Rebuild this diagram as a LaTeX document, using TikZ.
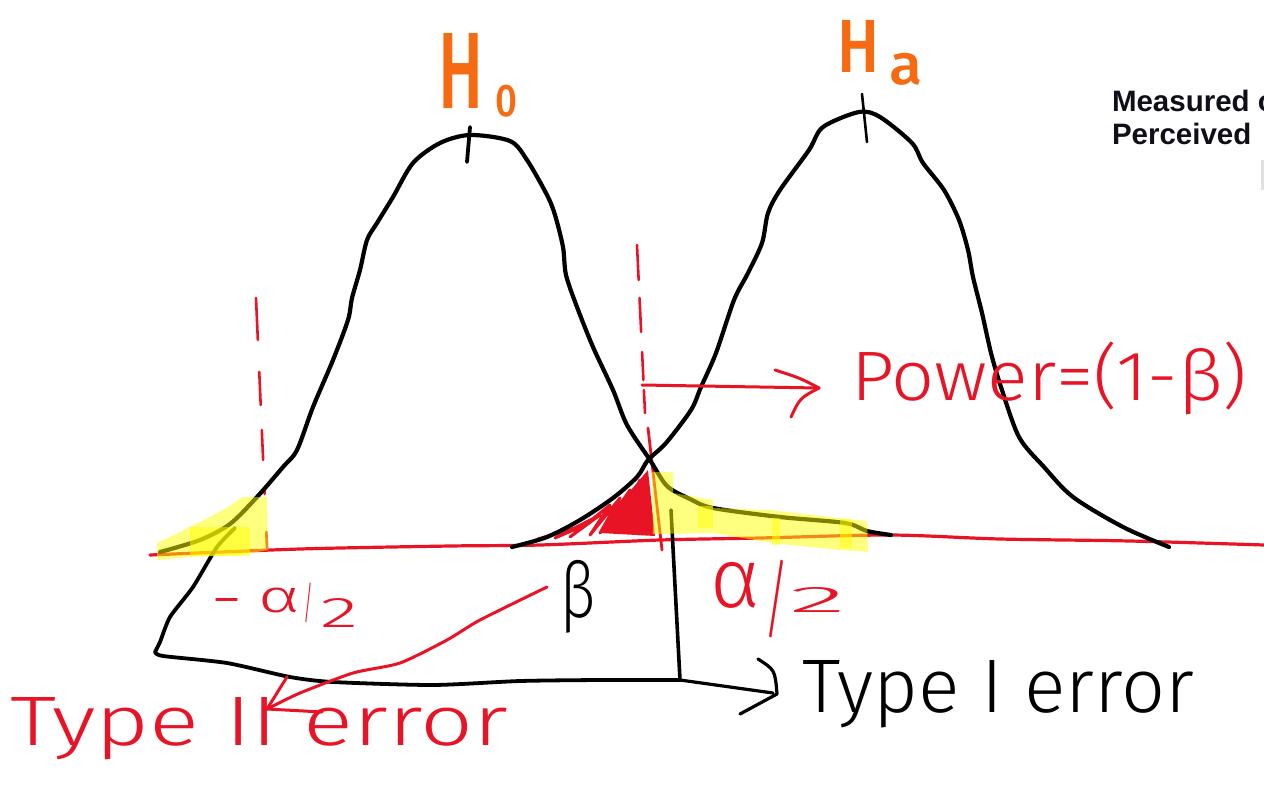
\documentclass[tikz,border=0pt]{standalone}
\usepackage{fontspec}
\usepackage{graphicx}
\setmainfont{Liberation Sans}
\IfFontExistsTF{Fira Sans Light}{\newfontfamily\hand{Fira Sans Light}}{\newfontfamily\hand{Carlito}}
\IfFontExistsTF{Fira Sans Medium}{\newfontfamily\handb{Fira Sans Medium}}{\newfontfamily\handb{Fira Sans}}
\newcommand\gl[3]{\resizebox*{#1}{#2}{\raisebox{\depth}{#3}}}
\definecolor{hred}{RGB}{232,20,38}
\definecolor{horange}{RGB}{246,106,18}
\definecolor{hyel}{RGB}{255,255,0}
\definecolor{ink}{RGB}{15,15,25}
\begin{document}
\begin{tikzpicture}[x=1pt,y=-1pt,line cap=round,line join=round,
  curve/.style={draw=black,line width=4.2pt},
  redline/.style={draw=hred,line width=3.2pt},
  dashseg/.style={draw=hred,line width=2.6pt},
  hl/.style={fill=hyel,opacity=0.5},
  txt/.style={inner sep=0pt,outer sep=0pt,anchor=base west}]
\useasboundingbox[fill=white] (0,0) rectangle (1264,793);

% red baseline
\draw[redline] plot[smooth,tension=0.5] coordinates {(150,555) (300,549) (450,546) (540,545) (660,540) (760,538) (890,535) (1000,539) (1130,541) (1264,545)};

% critical value lines
\foreach \a/\b in {298/340,372/405,430/460,488/494,532/548}
  \draw[dashseg] ({256+11*(\a-298)/250},\a) -- ({256+11*(\b-298)/250},\b);
\foreach \a/\b in {245/280,298/332,352/380,390/413}
  \draw[dashseg] ({637+8*(\a-245)/168},\a) -- ({637+8*(\b-245)/168},\b);
\draw[redline,line width=2.8pt] (648,428) -- (662,550);

% beta region
\fill[hred] (600,533) -- (625,497) -- (648,470) -- (655,536) -- cycle;
\draw[hred,line width=3pt] (538,539) -- (585,525) -- (555,538) -- (600,515) -- (570,537) -- (610,505) -- (590,535) -- (620,498) -- (600,533) -- (630,490) -- (615,533) -- (640,480) -- (628,533) -- (645,476) -- (640,534);

% H0 curve
\draw[curve] plot[smooth,tension=0.5] coordinates {(160,552) (200,540) (230,524) (257,497) (283,467) (297,450) (313,407) (333,360) (348,320) (352,298) (360,270) (367,240) (377,223) (393,197) (413,163) (440,143) (470,135) (510,141) (527,160) (547,195) (555,215) (563,247) (566,275) (577,307) (593,347) (613,390) (627,425) (650,460) (667,486) (690,499) (713,508) (780,517) (845,523) (867,531) (891,535)};
% Ha curve
\draw[curve] plot[smooth,tension=0.5] coordinates {(512,547) (547,537) (580,520) (613,498) (637,477) (648,460) (666,443) (691,410) (701,387) (716,353) (734,300) (748,273) (762,243) (768,213) (780,190) (809,150) (823,127) (859,112) (880,117) (912,143) (923,163) (944,190) (959,220) (968,250) (973,277) (982,313) (991,353) (1001,387) (1019,437) (1044,467) (1073,497) (1123,527) (1169,547)};
% peak ticks
\draw[curve,line width=3.8pt] (470,127) -- (467,162);
\draw[curve,line width=2.6pt] (862,94) -- (867,142);

% text nodes
\node[txt,text=horange] (h0) at (438,117) {\raisebox{9pt}{\gl{45pt}{75pt}{\handb H}}\hspace{12pt}\gl{22pt}{32pt}{\handb 0}};
\node[txt,text=horange] (ha) at (837,85) {\raisebox{13pt}{\gl{42pt}{52pt}{\handb H}}\hspace{10pt}\gl{33pt}{32pt}{\handb a}};
\node[txt,text=hred] (power) at (851,415) {\gl{396pt}{73pt}{\hand Power=(1-β)}};
\node[txt,text=hred] (t2) at (10,745) {\resizebox{498pt}{48pt}{\hand Type II error}};
\node[txt,text=black] (t1) at (802,712) {\resizebox{392pt}{52pt}{\hand Type I error}};
\node[txt,text=black] (beta) at (560,633) {\gl{35pt}{73pt}{\hand β}};
\node[txt,text=hred] (la) at (210,627) {\raisebox{9pt}{\gl{33pt}{20pt}{\hand -}}\hspace{15pt}\raisebox{14pt}{\gl{42pt}{25pt}{\hand α}}\hspace{3pt}\raisebox{4pt}{\gl{10pt}{40pt}{\hand /}}\hspace{7pt}\gl{38pt}{29pt}{\hand 2}};
\node[txt,text=hred] (ra) at (710,638) {\raisebox{30pt}{\gl{50pt}{46pt}{\hand α}}\hspace{3pt}\gl{26pt}{78pt}{\hand /}\hspace{0pt}\raisebox{26pt}{\gl{57pt}{25pt}{\hand 2}}};
\node[txt,text=ink,font=\bfseries\fontsize{29.5}{33}\selectfont] (m1) at (1112,111) {Measured o};
\node[txt,text=ink,font=\bfseries\fontsize{29.5}{33}\selectfont] (m2) at (1112,144) {Perceived};
\fill[black!12] (1261,160) rectangle (1264,190);

% power arrow
\coordinate (pw0) at (642,385);
\coordinate (pw1) at (819,388);
\draw[redline,line width=3pt] (pw0) -- (pw1);
\draw[redline,line width=3pt] (775,370) .. controls (800,378) .. (pw1) .. controls (800,398) .. (791,417);

% bracket to type I error
\coordinate (bk0) at (235,528);
\coordinate (bk1) at (155,652);
\coordinate (bk2) at (680,680);
\coordinate (bk3) at (671,510);
\coordinate (tip1) at (777,694);
\draw[curve,line width=3.8pt] plot[smooth,tension=0.4] coordinates {(bk0) (217,547) (193,587) (170,617) (160,642) (bk1)};
\draw[curve,line width=3.8pt] plot[smooth,tension=0.4] coordinates {(bk1) (163,656) (227,663) (290,677) (333,682) (433,685) (520,681) (600,680) (bk2)};
\draw[curve,line width=3.6pt] (bk3) -- (bk2);
\draw[curve,line width=3.2pt] (bk2) -- (773,693);
\draw[curve,line width=3.2pt] (758,659) .. controls (775,670) .. (tip1) -- (740,714);

% beta arrow to type II error
\coordinate (b0) at (547,587);
\coordinate (tip2) at (267,709);
\draw[redline,line width=3pt] plot[smooth,tension=0.4] coordinates {(b0) (480,620) (447,640) (400,663) (353,673) (300,693) (tip2)};
\draw[redline,line width=3pt] (287,677) -- (tip2) -- (322,712);

% yellow highlights
\fill[hl] (157,543) -- (190,527) -- (223,510) -- (243,497) -- (267,497) -- (268,550) -- (240,555) -- (190,557) -- (157,560) -- cycle;
\fill[hl] (190,527) rectangle (250,556);
\fill[hl] (652,472) -- (673,472) -- (673,493) -- (713,500) -- (713,508) -- (770,510) -- (847,519) -- (867,521) -- (868,552) -- (840,550) -- (780,544) -- (713,533) -- (653,534) -- cycle;
\fill[hl] (698,506) rectangle (713,528);
\fill[hl] (772,518) rectangle (780,545);
\fill[hl] (840,519) rectangle (852,548);
\end{tikzpicture}
\end{document}
